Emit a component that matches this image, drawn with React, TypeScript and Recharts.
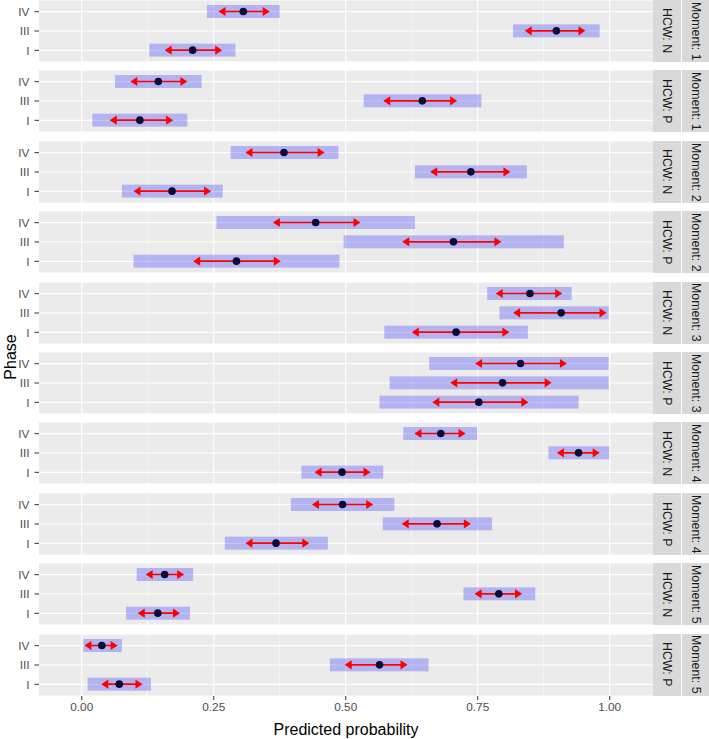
import { Bar, ComposedChart, XAxis, YAxis, CartesianGrid } from "recharts"

const PHASES = ["IV", "III", "I"]
const MOMENTS = [1, 1, 2, 2, 3, 3, 4, 4, 5, 5]
const HCW = ["N", "P", "N", "P", "N", "P", "N", "P", "N", "P"]

// per panel, values for IV, III, I
const estimate = [
  [0.306, 0.899, 0.21],
  [0.145, 0.645, 0.11],
  [0.383, 0.737, 0.171],
  [0.443, 0.704, 0.293],
  [0.849, 0.908, 0.709],
  [0.831, 0.797, 0.752],
  [0.68, 0.941, 0.493],
  [0.494, 0.673, 0.368],
  [0.157, 0.79, 0.144],
  [0.038, 0.564, 0.071],
]
const arrowLow = [
  [0.259, 0.839, 0.157],
  [0.092, 0.571, 0.053],
  [0.31, 0.66, 0.098],
  [0.362, 0.607, 0.211],
  [0.784, 0.817, 0.625],
  [0.745, 0.698, 0.664],
  [0.63, 0.9, 0.441],
  [0.436, 0.606, 0.31],
  [0.121, 0.744, 0.106],
  [0.005, 0.498, 0.037],
]
const arrowHigh = [
  [0.356, 0.954, 0.266],
  [0.2, 0.711, 0.173],
  [0.46, 0.812, 0.245],
  [0.528, 0.795, 0.377],
  [0.91, 0.994, 0.81],
  [0.919, 0.89, 0.846],
  [0.727, 0.981, 0.547],
  [0.552, 0.737, 0.431],
  [0.194, 0.834, 0.186],
  [0.068, 0.617, 0.115],
]
const bandLow = [
  [0.237, 0.817, 0.128],
  [0.063, 0.534, 0.02],
  [0.282, 0.631, 0.076],
  [0.255, 0.496, 0.098],
  [0.768, 0.791, 0.573],
  [0.658, 0.583, 0.564],
  [0.609, 0.884, 0.416],
  [0.396, 0.57, 0.271],
  [0.104, 0.723, 0.084],
  [0.003, 0.47, 0.011],
]
const bandHigh = [
  [0.375, 0.981, 0.291],
  [0.227, 0.757, 0.2],
  [0.486, 0.843, 0.267],
  [0.631, 0.913, 0.488],
  [0.928, 0.998, 0.845],
  [0.998, 0.998, 0.941],
  [0.749, 0.999, 0.571],
  [0.592, 0.777, 0.466],
  [0.211, 0.859, 0.205],
  [0.076, 0.657, 0.131],
]

const X_TICKS = [0, 0.25, 0.5, 0.75, 1]
const X_MINOR = [0.125, 0.375, 0.625, 0.875]

const FONT = '"Liberation Sans", Arial, sans-serif'
const PANEL_H = 62
const PITCH = 70.4
const CHART_W = 653
const AXIS_H = 24

function ArrowShape(props: any) {
  const { x, y, width, height, payload } = props
  const left = Math.min(x, x + width)
  const w = Math.abs(width)
  const lo = payload.bLo
  const hi = payload.bHi
  // position inside the band from the bar geometry the library gives us
  const toX = (v: number) => left + (w * (v - lo)) / (hi - lo)
  const cy = y + height / 2
  const a1 = toX(payload.aLo)
  const a2 = toX(payload.aHi)
  const px = toX(payload.est)
  const hl = 7
  const hw = 4.6
  return (
    <g>
      <rect x={left} y={y} width={w} height={height} fill="rgba(0,0,255,0.24)" />
      <line x1={a1 + 3} y1={cy} x2={a2 - 3} y2={cy} stroke="#FF0000" strokeWidth={1.6} />
      <polygon points={`${a1},${cy} ${a1 + hl},${cy - hw} ${a1 + hl},${cy + hw}`} fill="#FF0000" />
      <polygon points={`${a2},${cy} ${a2 - hl},${cy - hw} ${a2 - hl},${cy + hw}`} fill="#FF0000" />
      <circle cx={px} cy={cy} r={3.8} fill="#0b0b3b" />
    </g>
  )
}

const stripStyle = (left: number) => ({
  position: "absolute" as const,
  left,
  top: 0,
  width: 28,
  height: PANEL_H,
  background: "#D9D9D9",
  display: "flex",
  alignItems: "center",
  justifyContent: "center",
})

const stripText = {
  writingMode: "vertical-rl" as const,
  fontFamily: FONT,
  fontSize: 12.4,
  color: "#1A1A1A",
  whiteSpace: "nowrap" as const,
}

function Panel({ index }: { index: number }) {
  const last = index === MOMENTS.length - 1
  const data = PHASES.map((phase, j) => ({
    phase,
    est: estimate[index][j],
    aLo: arrowLow[index][j],
    aHi: arrowHigh[index][j],
    bLo: bandLow[index][j],
    bHi: bandHigh[index][j],
  }))
  const top = index * PITCH
  return (
    <div style={{ position: "absolute", left: 0, top }}>
      <ComposedChart
        layout="vertical"
        width={CHART_W}
        height={PANEL_H + (last ? AXIS_H : 0)}
        data={data}
        margin={{ top: 0, right: 0, bottom: 0, left: 0 }}
      >
        <CartesianGrid
          fill="#EBEBEB"
          stroke="#FFFFFF"
          strokeWidth={0.55}
          horizontal={false}
          verticalValues={X_MINOR}
        />
        <CartesianGrid stroke="#FFFFFF" strokeWidth={1.1} verticalValues={X_TICKS} />
        <XAxis
          type="number"
          domain={[-0.081, 1.082]}
          ticks={X_TICKS}
          interval={0}
          allowDataOverflow
          hide={!last}
          height={AXIS_H}
          axisLine={false}
          tickSize={4}
          tickMargin={3}
          tickLine={{ stroke: "#333333" }}
          tick={{ fill: "#4D4D4D", fontSize: 11.8, fontFamily: FONT }}
          tickFormatter={(v: number) => v.toFixed(2)}
        />
        <YAxis
          type="category"
          dataKey="phase"
          width={39}
          interval={0}
          padding={{ top: 2, bottom: 2 }}
          axisLine={false}
          tickSize={4.5}
          tickMargin={5}
          tickLine={{ stroke: "#333333" }}
          tick={{ fill: "#4D4D4D", fontSize: 11.8, fontFamily: FONT }}
        />
        <Bar
          dataKey={(d: any) => [d.bLo, d.bHi]}
          barSize={13}
          shape={ArrowShape}
          isAnimationActive={false}
        />
      </ComposedChart>
      <div style={stripStyle(CHART_W)}>
        <span style={stripText}>HCW: {HCW[index]}</span>
      </div>
      <div style={stripStyle(CHART_W + 29)}>
        <span style={stripText}>Moment: {MOMENTS[index]}</span>
      </div>
    </div>
  )
}

export default function App() {
  return (
    <div
      style={{
        position: "absolute",
        left: 0,
        top: 0,
        width: 709,
        height: 739,
        background: "#FFFFFF",
        overflow: "hidden",
      }}
    >
      {MOMENTS.map((_, i) => (
        <Panel key={i} index={i} />
      ))}
      <div
        style={{
          position: "absolute",
          left: -39,
          top: 347,
          width: 100,
          lineHeight: "20px",
          textAlign: "center",
          transform: "rotate(-90deg)",
          fontFamily: FONT,
          fontSize: 16,
          color: "#000000",
        }}
      >
        Phase
      </div>
      <div
        style={{
          position: "absolute",
          left: 39,
          top: 720,
          width: 614,
          lineHeight: "20px",
          textAlign: "center",
          fontFamily: FONT,
          fontSize: 16,
          color: "#000000",
        }}
      >
        Predicted probability
      </div>
    </div>
  )
}
